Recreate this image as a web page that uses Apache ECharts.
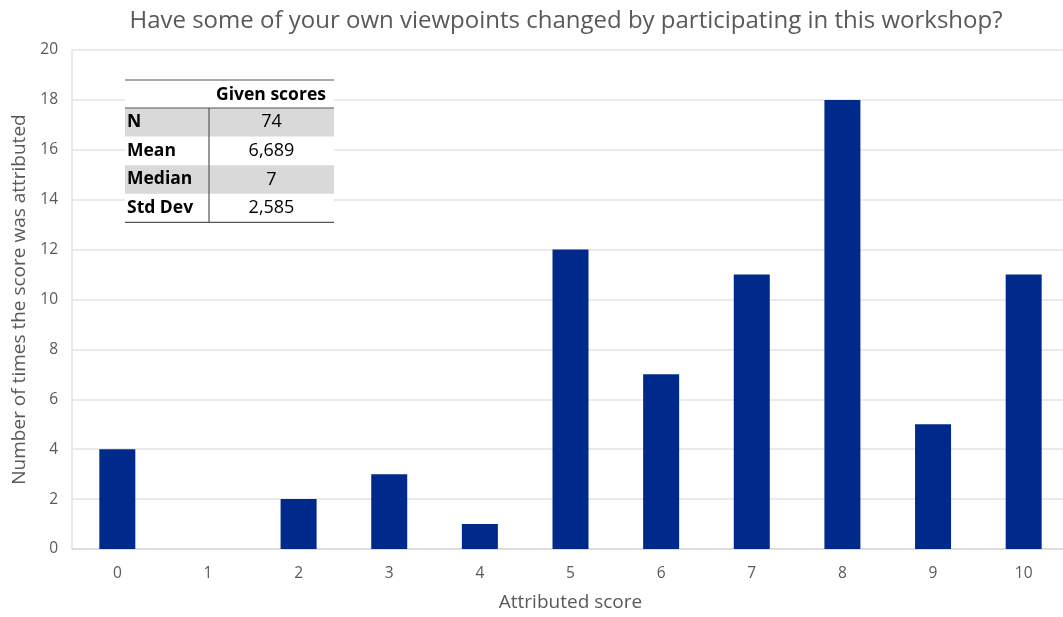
<!DOCTYPE html>
<html>
<head>
<meta charset="utf-8">
<script src="https://cdn.jsdelivr.net/npm/echarts@6/dist/echarts.min.js"></script>
<style>
  html, body { margin: 0; padding: 0; background: #fff; overflow: hidden; }
  #frame { position: relative; width: 1063px; height: 617px; overflow: hidden; }
  /* the plot area runs slightly past the right edge of the frame */
  #chart { position: absolute; left: 0; top: 0; width: 1069px; height: 617px; }
</style>
</head>
<body>
<div id="frame"><div id="chart"></div></div>
<script>
// Scores attributed by participants and how often each was given
const scores = ['0', '1', '2', '3', '4', '5', '6', '7', '8', '9', '10'];
const counts = [4, 0, 2, 3, 1, 12, 7, 11, 18, 5, 11];

// Summary statistics shown in the inset table
const statHeader = 'Given scores';
const statLabels = ['N', 'Mean', 'Median', 'Std Dev'];
const statValues = ['74', '6,689', '7', '2,585'];

const FONT = '"Open Sans", "Noto Sans", sans-serif';
const chart = echarts.init(document.getElementById('chart'), null, { renderer: 'canvas' });

// Inset table geometry
const tbl = { left: 125, right: 334, top: 80, headerH: 28, rowH: 28.6, divX: 209 };

function buildTable() {
  const els = [];
  const width = tbl.right - tbl.left;
  const bodyTop = tbl.top + tbl.headerH;
  // white backing so gridlines don't show through
  els.push({ type: 'rect', shape: { x: tbl.left, y: tbl.top, width: width, height: tbl.headerH + tbl.rowH * statLabels.length }, style: { fill: '#fff' }, z: 10 });
  statLabels.forEach((lab, i) => {
    const y = bodyTop + i * tbl.rowH;
    if (i % 2 === 0) {
      els.push({ type: 'rect', shape: { x: tbl.left, y: y, width: width, height: tbl.rowH }, style: { fill: '#D9D9D9' }, z: 11 });
    }
    els.push({ type: 'text', x: tbl.left + 2, y: y + tbl.rowH / 2, style: { text: lab, fill: '#000', font: 'bold 17.5px ' + FONT, textVerticalAlign: 'middle' }, z: 12 });
    els.push({ type: 'text', x: (tbl.divX + tbl.right) / 2, y: y + tbl.rowH / 2, style: { text: statValues[i], fill: '#000', font: '18px ' + FONT, textAlign: 'center', textVerticalAlign: 'middle' }, z: 12 });
  });
  els.push({ type: 'text', x: 271, y: tbl.top + tbl.headerH / 2 + 1, style: { text: statHeader, fill: '#000', font: 'bold 17.5px ' + FONT, textAlign: 'center', textVerticalAlign: 'middle' }, z: 12 });
  const bottom = bodyTop + tbl.rowH * statLabels.length;
  const line = (x1, y1, x2, y2) => ({ type: 'line', shape: { x1, y1, x2, y2 }, style: { stroke: '#555', lineWidth: 1.2 }, z: 13 });
  els.push(line(tbl.left, tbl.top, tbl.right, tbl.top));
  els.push(line(tbl.left, bodyTop, tbl.right, bodyTop));
  els.push(line(tbl.left, bottom, tbl.right, bottom));
  els.push(line(tbl.divX, bodyTop, tbl.divX, bottom));
  return els;
}

chart.setOption({
  animation: false,
  backgroundColor: '#fff',
  title: {
    text: 'Have some of your own viewpoints changed by participating in this workshop?',
    left: 561, top: 4, textAlign: 'center',
    textStyle: { fontFamily: FONT, fontSize: 24, fontWeight: 'normal', color: '#595959' }
  },
  grid: { left: 72, right: 0, top: 50, bottom: 65, containLabel: false },
  xAxis: {
    type: 'category',
    data: scores,
    name: 'Attributed score',
    nameLocation: 'middle',
    nameGap: 44,
    nameTextStyle: { fontFamily: FONT, fontSize: 19, color: '#595959' },
    axisLine: { lineStyle: { color: '#D9D9D9', width: 1.5 } },
    axisTick: { show: false },
    axisLabel: { fontFamily: FONT, fontSize: 15.5, color: '#595959', margin: 17 }
  },
  yAxis: {
    type: 'value',
    min: 0, max: 20, interval: 2,
    name: 'Number of times the score was attributed',
    nameLocation: 'middle',
    nameGap: 43,
    nameTextStyle: { fontFamily: FONT, fontSize: 19, color: '#595959' },
    axisLine: { show: true, lineStyle: { color: '#E3E3E3', width: 1.5 } },
    axisTick: { show: false },
    splitLine: { lineStyle: { color: '#E3E3E3', width: 1.5 } },
    axisLabel: { fontFamily: FONT, fontSize: 15.5, color: '#595959', margin: 14 }
  },
  series: [{
    type: 'bar',
    data: counts,
    barWidth: 36,
    itemStyle: { color: '#00298C' }
  }],
  graphic: buildTable()
});
</script>
</body>
</html>
